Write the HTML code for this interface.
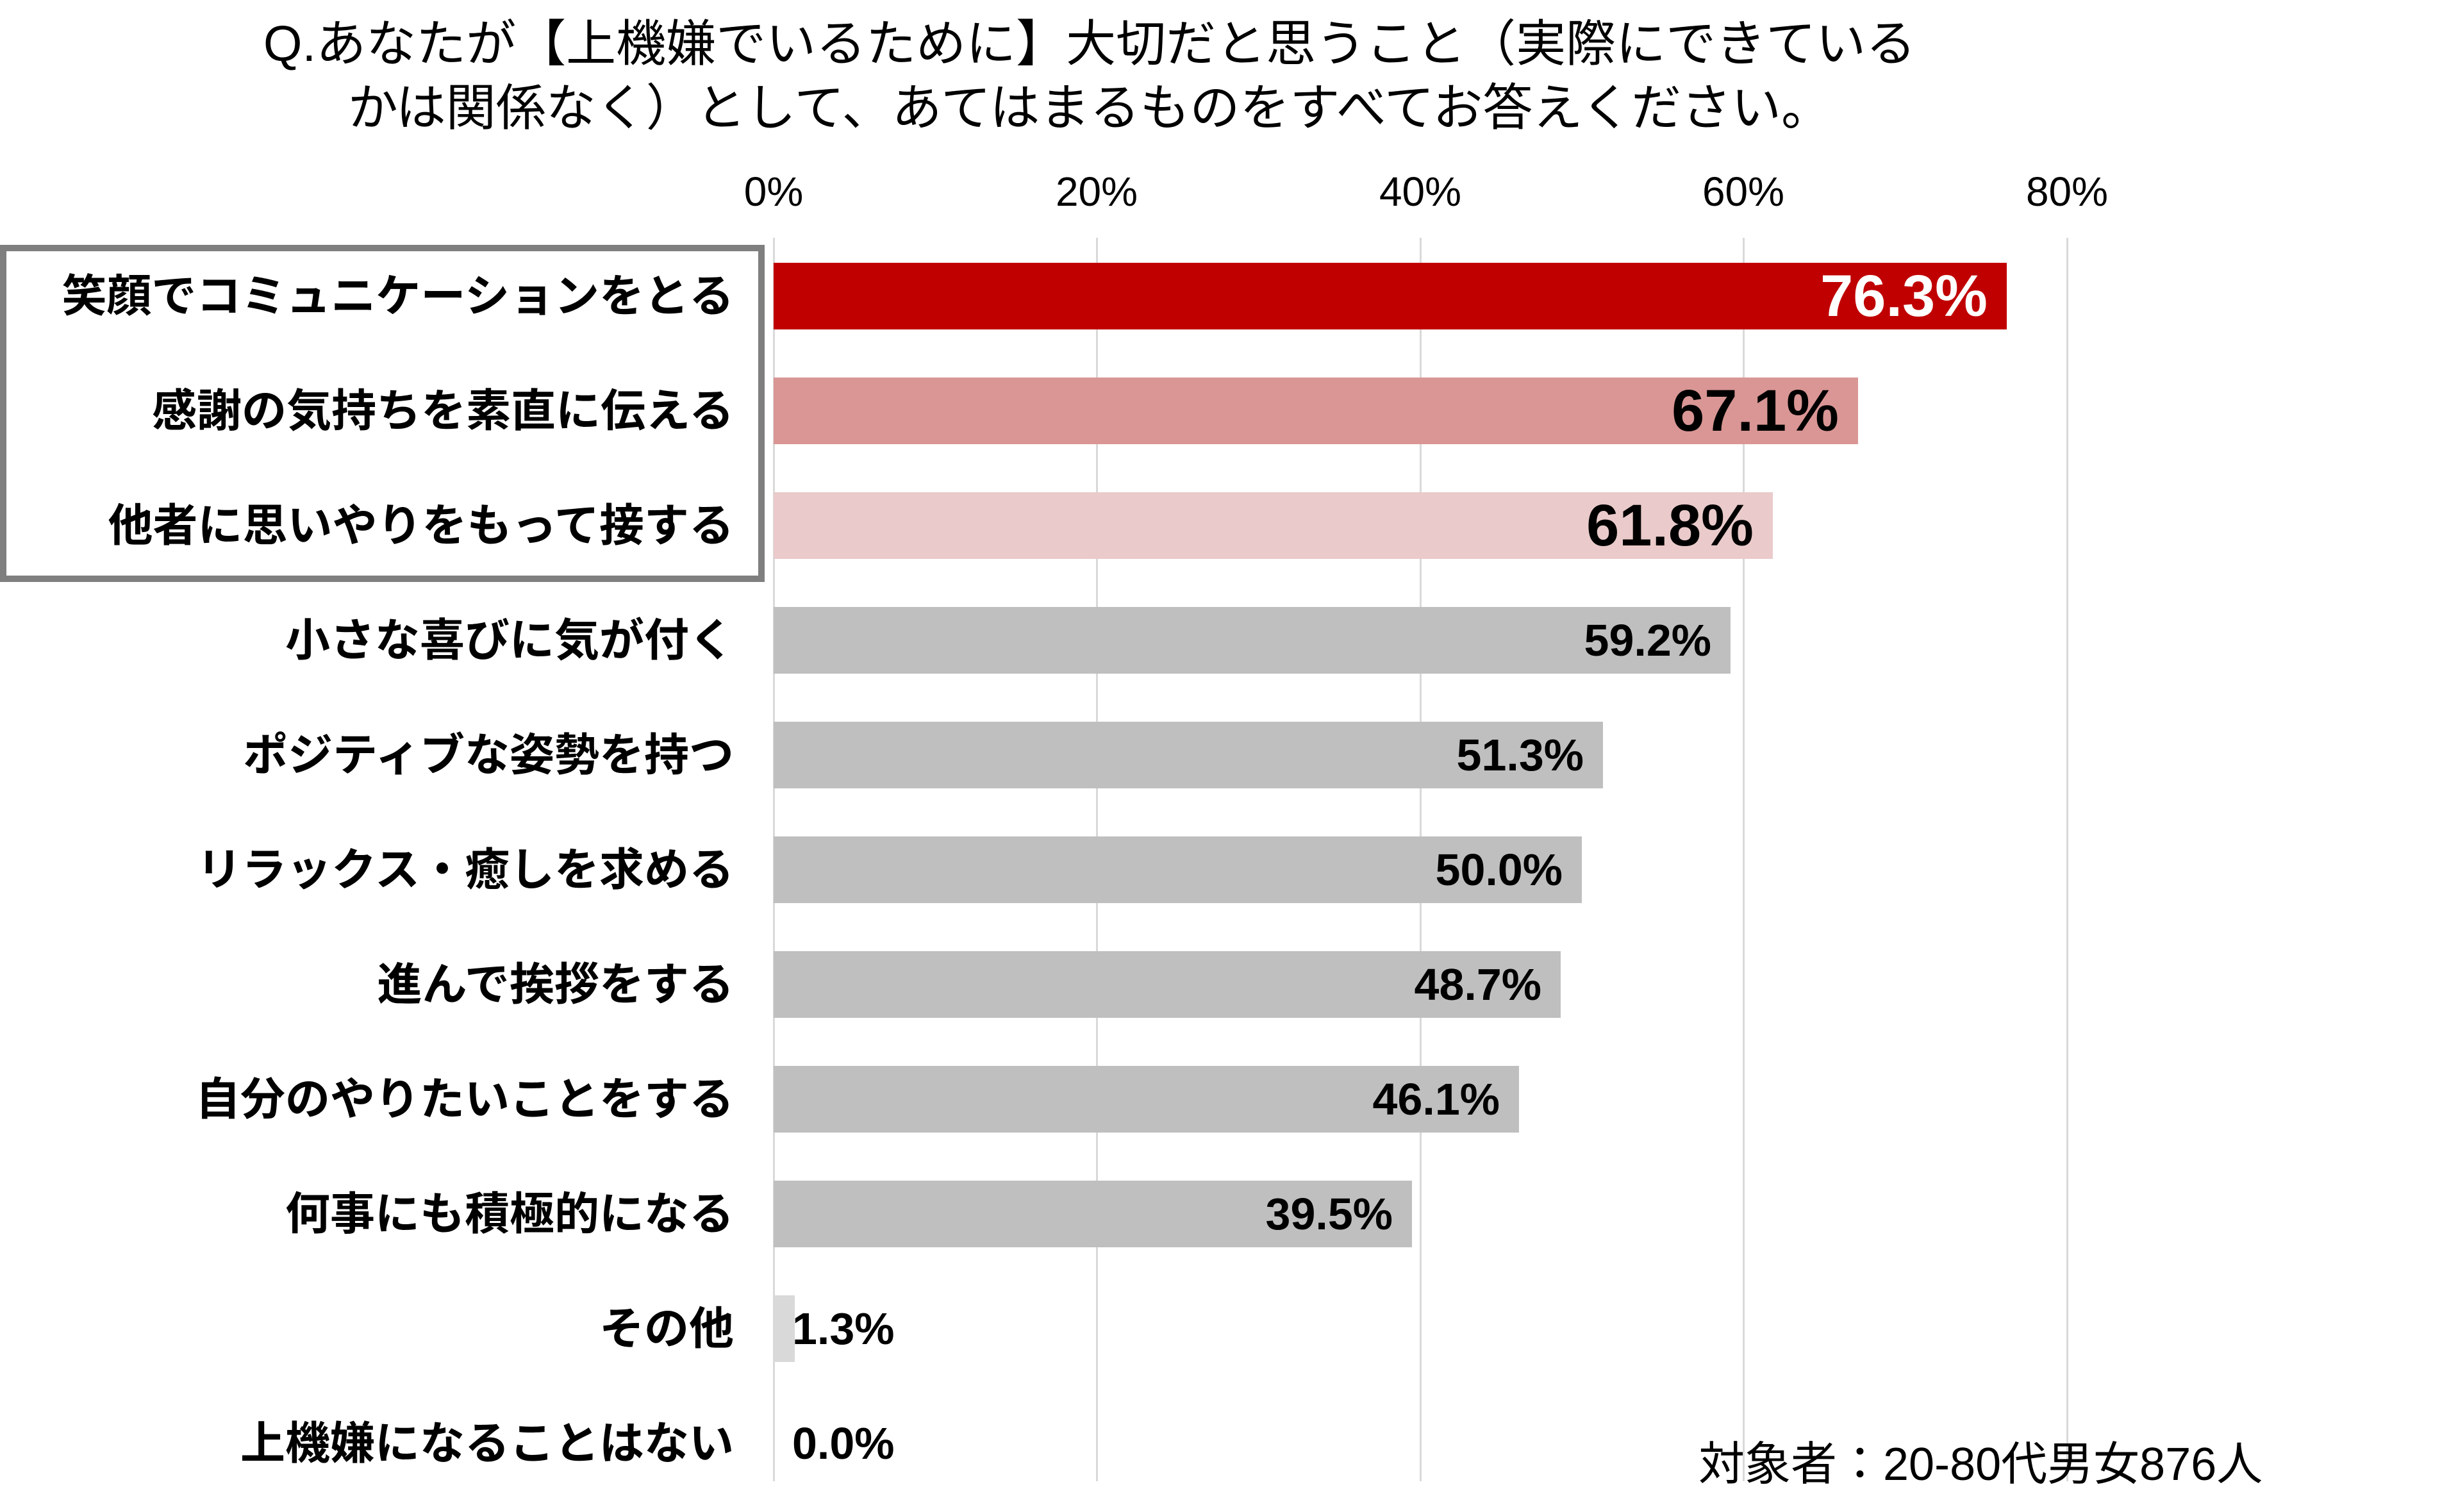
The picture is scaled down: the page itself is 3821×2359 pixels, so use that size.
<!DOCTYPE html>
<html><head><meta charset="utf-8"><style>
body{margin:0;background:#fff;}
#c{position:relative;width:3821px;height:2359px;overflow:hidden;background:#fff;font-family:"Liberation Sans","Noto Sans CJK JP",sans-serif;color:#000;}
.t{position:absolute;white-space:nowrap;}
.g{position:absolute;top:371px;height:1940px;width:3px;background:#d9d9d9;}
.bar{position:absolute;height:104px;}
.lab{position:absolute;right:2676px;font-size:70px;font-weight:bold;text-align:right;white-space:nowrap;line-height:104px;}
.val{position:absolute;font-size:70px;font-weight:bold;line-height:104px;white-space:nowrap;text-align:right;}
</style></head><body><div id="c">
<div class="t" style="left:0;width:3400px;text-align:center;top:18px;font-size:78px;line-height:100px;">Q.あなたが【上機嫌でいるために】大切だと思うこと（実際にできている<br>かは関係なく）として、あてはまるものをすべてお答えください。</div>
<div class="t" style="left:1107px;width:200px;text-align:center;top:262px;font-size:64px;">0%</div>
<div class="t" style="left:1611px;width:200px;text-align:center;top:262px;font-size:64px;">20%</div>
<div class="t" style="left:2116px;width:200px;text-align:center;top:262px;font-size:64px;">40%</div>
<div class="t" style="left:2620px;width:200px;text-align:center;top:262px;font-size:64px;">60%</div>
<div class="t" style="left:3125px;width:200px;text-align:center;top:262px;font-size:64px;">80%</div>
<div class="g" style="left:1206px"></div>
<div class="g" style="left:1710px"></div>
<div class="g" style="left:2215px"></div>
<div class="g" style="left:2719px"></div>
<div class="g" style="left:3224px"></div>
<div style="position:absolute;left:0;top:382px;width:1173px;height:506px;border:10px solid #7f7f7f;"></div>

<div class="bar" style="left:1207px;top:410px;width:1924px;background:#c00000"></div>
<div class="val" style="left:1207px;width:1894px;top:410px;font-size:92px;color:#fff;">76.3%</div>
<div class="lab" style="top:410px">笑顔でコミュニケーションをとる</div>

<div class="bar" style="left:1207px;top:589px;width:1692px;background:#d99694"></div>
<div class="val" style="left:1207px;width:1662px;top:589px;font-size:92px;">67.1%</div>
<div class="lab" style="top:589px">感謝の気持ちを素直に伝える</div>

<div class="bar" style="left:1207px;top:768px;width:1559px;background:#eacaca"></div>
<div class="val" style="left:1207px;width:1529px;top:768px;font-size:92px;">61.8%</div>
<div class="lab" style="top:768px">他者に思いやりをもって接する</div>

<div class="bar" style="left:1207px;top:947px;width:1493px;background:#bfbfbf"></div>
<div class="val" style="left:1207px;width:1463px;top:947px;">59.2%</div>
<div class="lab" style="top:947px">小さな喜びに気が付く</div>

<div class="bar" style="left:1207px;top:1126px;width:1294px;background:#bfbfbf"></div>
<div class="val" style="left:1207px;width:1264px;top:1126px;">51.3%</div>
<div class="lab" style="top:1126px">ポジティブな姿勢を持つ</div>

<div class="bar" style="left:1207px;top:1305px;width:1261px;background:#bfbfbf"></div>
<div class="val" style="left:1207px;width:1231px;top:1305px;">50.0%</div>
<div class="lab" style="top:1305px">リラックス・癒しを求める</div>

<div class="bar" style="left:1207px;top:1484px;width:1228px;background:#bfbfbf"></div>
<div class="val" style="left:1207px;width:1198px;top:1484px;">48.7%</div>
<div class="lab" style="top:1484px">進んで挨拶をする</div>

<div class="bar" style="left:1207px;top:1663px;width:1163px;background:#bfbfbf"></div>
<div class="val" style="left:1207px;width:1133px;top:1663px;">46.1%</div>
<div class="lab" style="top:1663px">自分のやりたいことをする</div>

<div class="bar" style="left:1207px;top:1842px;width:996px;background:#bfbfbf"></div>
<div class="val" style="left:1207px;width:966px;top:1842px;">39.5%</div>
<div class="lab" style="top:1842px">何事にも積極的になる</div>

<div class="bar" style="left:1207px;top:2021px;width:33px;background:#d9d9d9"></div>
<div class="val" style="left:1236px;top:2021px;text-align:left;">1.3%</div>
<div class="lab" style="top:2021px">その他</div>

<div class="val" style="left:1236px;top:2200px;text-align:left;">0.0%</div>
<div class="lab" style="top:2200px">上機嫌になることはない</div>

<div class="t" style="left:2650px;top:2225px;font-size:72px;">対象者：20-80代男女876人</div>
</div></body></html>
